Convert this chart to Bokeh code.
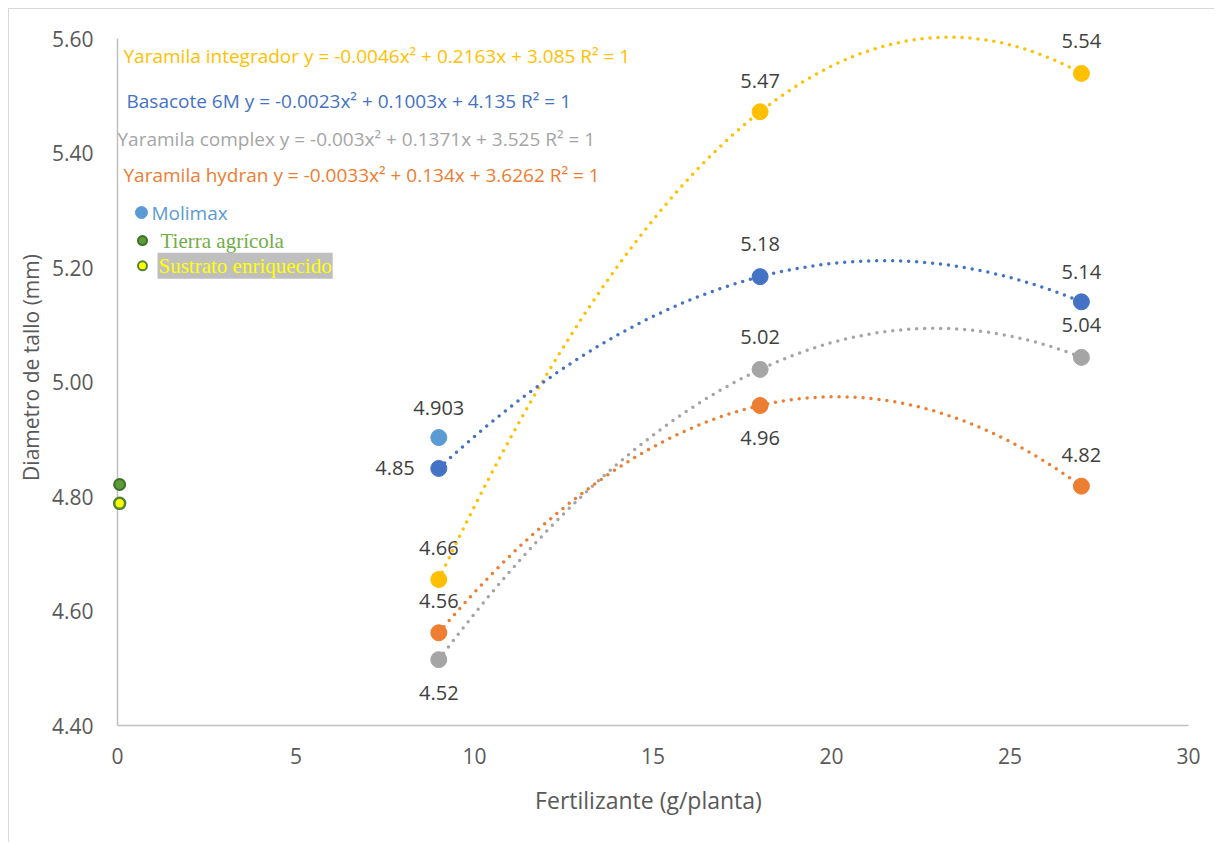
import numpy as np
from bokeh.plotting import figure
from bokeh.models import Range1d, FixedTicker, Label, CustomJSTickFormatter
from bokeh.embed import file_html
from bokeh.resources import INLINE

# ---- data ----
dose = [9, 18, 27]
basacote = [4.849, 5.184, 5.140]
integrador = [4.655, 5.472, 5.539]
complex_ = [4.515, 5.022, 5.043]
hydran = [4.562, 4.959, 4.818]
basacote_lbl = ["4.85", "5.18", "5.14"]
integrador_lbl = ["4.66", "5.47", "5.54"]
complex_lbl = ["4.52", "5.02", "5.04"]
hydran_lbl = ["4.56", "4.96", "4.82"]
molimax_x, molimax_y, molimax_lbl = [9], [4.903], ["4.903"]
tierra_x, tierra_y = [0.06], [4.821]
sustrato_x, sustrato_y = [0.06], [4.788]
x_ticks = [0, 5, 10, 15, 20, 25, 30]
y_ticks = [4.4, 4.6, 4.8, 5.0, 5.2, 5.4, 5.6]

eq_texts = [
    "Yaramila integrador y = -0.0046x\u00b2 + 0.2163x + 3.085 R\u00b2 = 1",
    "Basacote 6M y = -0.0023x\u00b2 + 0.1003x + 4.135 R\u00b2 = 1",
    "Yaramila complex y = -0.003x\u00b2 + 0.1371x + 3.525 R\u00b2 = 1",
    "Yaramila hydran y = -0.0033x\u00b2 + 0.134x + 3.6262 R\u00b2 = 1",
]

C_INT = "#FFC000"
C_BAS = "#4472C4"
C_COM = "#A5A5A5"
C_HYD = "#ED7D31"
C_MOL = "#5B9BD5"
LBL = "#404040"
FONT = "Open Sans"

PX_X = 1071 / 30.0          # pixels per x unit
PX_Y = 687 / 1.2            # pixels per y unit
X_LEFT = -9 / PX_X          # small room left of x=0 so edge markers are not clipped
Y_TOP = 5.6 + 29 / PX_Y     # headroom above the last tick so labels are not clipped

p = figure(width=1206, height=834, output_backend="svg", toolbar_location=None,
           x_range=Range1d(X_LEFT, 30), y_range=Range1d(4.4, Y_TOP),
           min_border_left=99, min_border_right=27, min_border_top=0, min_border_bottom=118)
p.styles = {"margin-left": "8px", "margin-top": "8px",
            "border-top": "1px solid #D9D9D9", "border-left": "1px solid #D9D9D9"}
p.outline_line_color = None
p.grid.visible = False
p.background_fill_color = "white"

for ax in (p.xaxis[0], p.yaxis[0]):
    ax.axis_line_color = "#BFBFBF"
    ax.axis_line_width = 1.5
    ax.major_tick_line_color = None
    ax.minor_tick_line_color = None
    ax.major_label_text_font = FONT
    ax.major_label_text_font_size = "21px"
    ax.major_label_text_color = "#595959"
    ax.axis_label_text_font = FONT
    ax.axis_label_text_font_style = "normal"
    ax.axis_label_text_color = "#595959"
p.yaxis.axis_line_color = None
p.xaxis.bounds = (0, 30)
p.xaxis.axis_label_text_font_size = "23px"
p.yaxis.axis_label_text_font_size = "21px"

p.xaxis.ticker = FixedTicker(ticks=x_ticks)
p.yaxis.ticker = FixedTicker(ticks=y_ticks)
p.yaxis.formatter = CustomJSTickFormatter(code="return tick.toFixed(2);")
p.xaxis.axis_label = "Fertilizante (g/planta)"
p.yaxis.axis_label = "Diametro de tallo (mm)"
p.xaxis.major_label_standoff = 16
p.xaxis.axis_label_standoff = 17
p.yaxis.major_label_standoff = 9
p.yaxis.axis_label_standoff = 4

# vertical axis line at x = 0, up to the last tick
p.segment(x0=[0], y0=[y_ticks[0]], x1=[0], y1=[y_ticks[-1]], line_color="#BFBFBF", line_width=1.5)

# trendlines (2nd-order polynomial fit of each series)
xs = np.linspace(dose[0], dose[-1], 300)
for ys, c in [(integrador, C_INT), (basacote, C_BAS), (complex_, C_COM), (hydran, C_HYD)]:
    coef = np.polyfit(dose, ys, 2)
    p.line(xs, np.polyval(coef, xs), line_color=c, line_width=3.5,
           line_dash="0 8", line_cap="round")

# series points
series = [
    (integrador, integrador_lbl, C_INT, [-32, -31, -32]),
    (basacote, basacote_lbl, C_BAS, [0, -33, -30]),
    (complex_, complex_lbl, C_COM, [33, -32, -32]),
    (hydran, hydran_lbl, C_HYD, [-32, 33, -31]),
]
for ys, lbls, c, offs in series:
    p.scatter(dose, ys, size=16, fill_color=c, line_color=c)
    for xv, yv, t, o in zip(dose, ys, lbls, offs):
        if ys is basacote and xv == 9:
            p.add_layout(Label(x=xv, y=yv, text=t, x_offset=-24, y_offset=0,
                               text_align="right", text_baseline="middle",
                               text_font=FONT, text_font_size="20px", text_color=LBL))
        else:
            p.add_layout(Label(x=xv, y=yv, text=t, x_offset=0, y_offset=-o,
                               text_align="center", text_baseline="middle",
                               text_font=FONT, text_font_size="20px", text_color=LBL))

p.scatter(molimax_x, molimax_y, size=16, fill_color=C_MOL, line_color=C_MOL)
p.add_layout(Label(x=molimax_x[0], y=molimax_y[0], text=molimax_lbl[0], y_offset=30,
                   text_align="center", text_baseline="middle",
                   text_font=FONT, text_font_size="20px", text_color=LBL))

p.scatter(tierra_x, tierra_y, size=11, fill_color="#5B9B3A", line_color="#3F6E27", line_width=2)
p.scatter(sustrato_x, sustrato_y, size=11, fill_color="#FFFF00", line_color="#548235", line_width=2.5)

# equation texts
eq_pos = [(0.168, 5.570, C_INT), (0.252, 5.490, C_BAS), (0.0, 5.425, C_COM), (0.168, 5.361, C_HYD)]
for t, (xx, yy, c) in zip(eq_texts, eq_pos):
    p.add_layout(Label(x=xx, y=yy, text=t, text_align="left", text_baseline="middle",
                       text_font=FONT, text_font_size="19px", text_color=c))

# legend entries
p.scatter([0.672], [5.296], size=12, fill_color=C_MOL, line_color=C_MOL)
p.add_layout(Label(x=0.952, y=5.296, text="Molimax", text_align="left", text_baseline="middle",
                   text_font=FONT, text_font_size="19px", text_color=C_MOL))
p.scatter([0.70], [5.247], size=9, fill_color="#5B9B3A", line_color="#3F6E27", line_width=2)
p.add_layout(Label(x=1.205, y=5.247, text="Tierra agrícola", text_align="left", text_baseline="middle",
                   text_font="Liberation Serif", text_font_size="21px", text_color="#70AD47"))
p.scatter([0.70], [5.203], size=9, fill_color="#FFFF00", line_color="#548235", line_width=2)
p.add_layout(Label(x=1.12, y=5.203, text="Sustrato enriquecido", text_align="left", text_baseline="middle",
                   text_font="Liberation Serif", text_font_size="21px", text_color="#FFFF00",
                   background_fill_color="#BFBFBF", padding=1))

open("out.html", "w").write(file_html(p, INLINE))
